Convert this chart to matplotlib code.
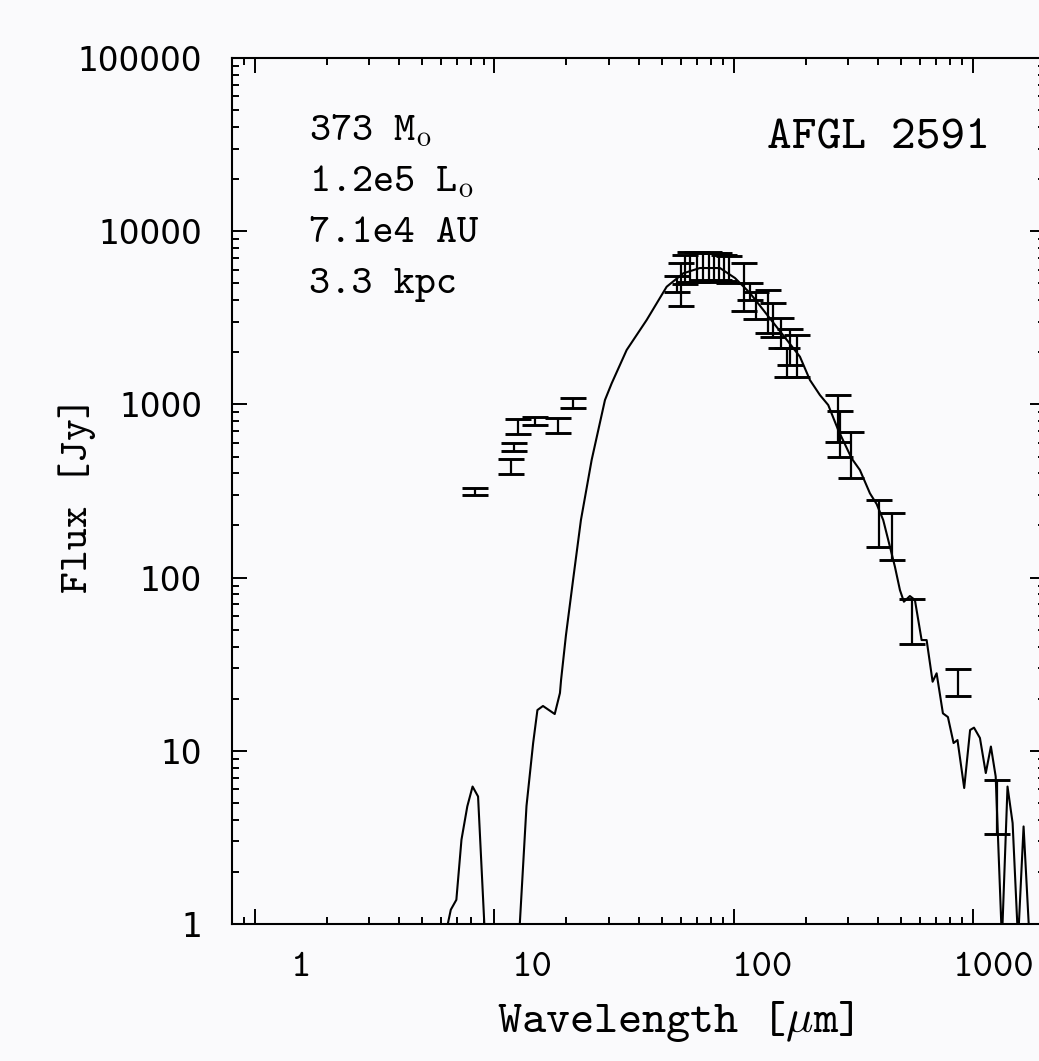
import matplotlib.pyplot as plt
import matplotlib.ticker as ticker
import numpy as np

# model SED, wavelength [micron] / flux [Jy]
model_wave = [6.2, 6.38, 6.57, 6.93, 7.28, 7.70, 8.10, 8.54, 9.07, 9.6, 12.2,
              12.76, 13.61, 14.51, 15.12, 15.95, 17.86, 18.78, 18.98, 19.90,
              21.35, 22.98, 25.48, 28.96, 30.89, 35.68, 43.25, 52.45, 61.5,
              72.2, 87.6, 101.2, 116.9, 166.9, 189.1, 208.2, 229.2, 248.3,
              273.3, 310.9, 336.8, 370.9, 395.6, 421.5, 449.6, 471.7, 495,
              514.3, 544.8, 571.7, 609.9, 640.0, 678.0, 704.6, 748.6, 785.5,
              829.5, 861.3, 918.8, 972.5, 1009.7, 1069, 1131, 1188, 1244,
              1321, 1394, 1464, 1543, 1627, 1724]
model_flux = [0.5, 1.0, 1.21, 1.38, 3.07, 4.78, 6.22, 5.45, 1.0, 0.01, 0.01,
              1.0, 4.80, 11.09, 17.2, 18.15, 16.31, 21.57, 25.6, 46.6,
              99.1, 215, 478, 1060, 1323, 2061, 3071, 4782, 5714,
              6132, 6132, 5368, 4398, 2353, 1886, 1383, 1133, 992,
              711.6, 488.5, 418, 306.7, 266, 215, 150.8, 115.6, 84.8,
              72.6, 78.3, 74.3, 43.6, 43.6, 25.06, 28.03, 16.46, 15.67,
              11.09, 11.54, 6.10, 13.19, 13.61, 11.86, 7.44, 10.59, 7.11,
              0.8, 6.22, 3.83, 0.8, 3.66, 0.8]

# photometry
phot_wave = [8.29, 11.72, 12.10, 12.50, 14.77, 18.48, 21.35,
             57.9, 60.2, 62.5, 65.6, 70.2, 74.3, 78.8, 82.7, 86.8, 91.0, 95.5,
             110.3, 116.9, 123.8, 139.0, 145.8, 157.5, 166.9, 171.8, 183.7,
             272.6, 277.9, 307.9, 404.4, 456.9, 553.8, 867.6, 1259]
phot_flux = [314, 438, 571, 746, 805, 756, 1025,
             4993, 5139, 6122, 6337, 6337, 6370, 6372, 6302, 6370, 6223, 6107,
             5020, 4515, 3787, 3580, 3148, 2630, 1777, 2202, 1981,
             871, 709, 535, 216, 181, 58.2, 25.2, 5.06]
phot_err = [14, 44, 31, 74, 45, 75, 68,
            519, 1439, 1166, 1248, 1248, 1144, 1214, 1213, 1144, 1065, 1085,
            1558, 508, 687, 996, 688, 513, 332, 513, 536,
            262, 210, 161, 65, 54, 17, 4.4, 1.74]

label_ticks = [1, 10, 100, 1000]
info_lines = ['373 M$_{\\rm o}$', '1.2e5 L$_{\\rm o}$', '7.1e4 AU', '3.3 kpc']
source_name = 'AFGL 2591'

bg = '#fafafc'
tt = ['cmtt10', 'DejaVu Sans Mono']
plt.rcParams['mathtext.fontset'] = 'cm'

fig = plt.figure(figsize=(10.39, 10.61), dpi=100, facecolor=bg)
ax = fig.add_axes([0.2233, 0.1291, 0.7825, 0.8162], facecolor=bg)

ax.plot(model_wave, model_flux, color='black', lw=1.5)
ax.errorbar(phot_wave, phot_flux, yerr=phot_err, fmt='none', ecolor='black',
            elinewidth=1.6, capsize=9.7, capthick=2.1)

ax.set_xscale('log')
ax.set_yscale('log')
ax.set_xlim(0.8, 2000)
ax.set_ylim(1, 1e5)

for s in ax.spines.values():
    s.set_linewidth(1.5)
ax.tick_params(which='both', direction='in', top=True, right=True, width=1.4)
ax.tick_params(which='major', length=10.8)
ax.tick_params(which='minor', length=5)
ax.tick_params(axis='x', labelbottom=False)
ax.tick_params(axis='y', labelsize=23.5, pad=21.6, labelfontfamily='DejaVu Sans')
ax.yaxis.set_major_formatter(ticker.FuncFormatter(lambda v, p: '%d' % v))
ax.yaxis.set_minor_formatter(ticker.NullFormatter())
ax.xaxis.set_minor_formatter(ticker.NullFormatter())

# x labels sit on a slightly different log scale than the ticks
def fwd(x):
    x = np.clip(np.asarray(x, dtype=float), 1e-10, None)
    return 10 ** ((np.log10(x) - 0.19143) / 0.96532)

def inv(s):
    s = np.clip(np.asarray(s, dtype=float), 1e-10, None)
    return 10 ** (0.19143 + 0.96532 * np.log10(s))

sec = ax.secondary_xaxis('bottom', functions=(fwd, inv))
sec.spines['bottom'].set_visible(False)
sec.xaxis.set_major_locator(ticker.FixedLocator(label_ticks))
sec.xaxis.set_minor_locator(ticker.NullLocator())
sec.xaxis.set_major_formatter(ticker.FuncFormatter(lambda v, p: '%g' % v))
sec.tick_params(which='both', length=0, labelsize=28, pad=20,
                labelfontfamily='cmtt10')

ax.set_xlabel('Wavelength [$\\mu$m]', fontsize=33, family=tt)
ax.xaxis.label.set_va('center')
ax.xaxis.set_label_coords(0.545, -0.113)
ax.set_ylabel('Flux [Jy]', fontsize=30, family=tt)
ax.yaxis.label.set_va('center')
ax.yaxis.set_label_coords(-0.1907, 0.4954)

for i, line in enumerate(info_lines):
    ax.text(0.0947, 0.9053 - i * 0.0589, line, transform=ax.transAxes,
            fontsize=29, family=tt, va='baseline', ha='left')
ax.text(0.9323, 0.8961, source_name, transform=ax.transAxes,
        fontsize=34, family=tt, va='baseline', ha='right')

fig.savefig('out.png', dpi=100, facecolor=bg)
